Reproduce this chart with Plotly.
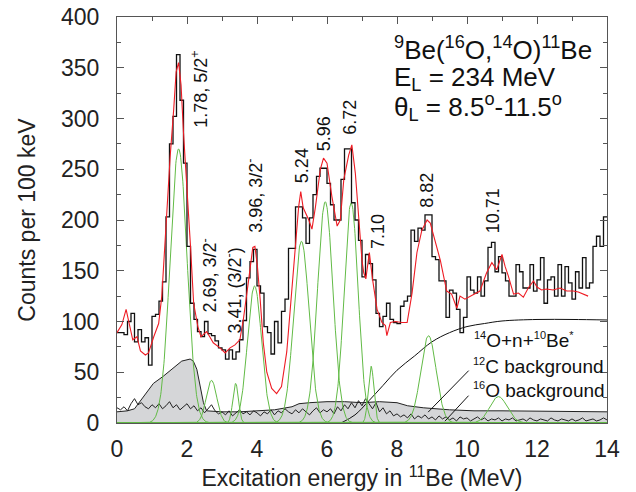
import plotly.graph_objects as go
import numpy as np

# ---------------- data ----------------
bin_width = 0.1
hist_counts = [
    89, 89, 87, 100, 108, 80, 92, 80, 84, 57,
    105, 107, 120, 139, 203, 275, 302, 363, 318, 256,
    174, 118, 102, 90, 85, 100, 88, 86, 81, 74,
    72, 63, 72, 63, 70, 82, 101, 143, 159, 171,
    135, 128, 95, 89, 68, 100, 79, 110, 122, 172,
    172, 213, 213, 202, 177, 202, 225, 243, 251, 251,
    236, 215, 200, 200, 240, 270, 270, 217, 200, 180,
    144, 166, 157, 141, 108, 95, 105, 118, 102, 99,
    98, 115, 120, 125, 190, 179, 192, 190, 205, 205,
    164, 161, 140, 140, 104, 131, 128, 112, 89, 104,
    144, 131, 128, 144, 125, 140, 173, 178, 149, 164,
    148, 140, 125, 125, 156, 149, 133, 133, 156, 130,
    141, 163, 118, 141, 144, 125, 156, 125, 154, 138,
    122, 149, 133, 163, 133, 138, 174, 184, 174, 203,
]

fit_x = [0, 0.14, 0.26, 0.45, 0.57, 0.67, 0.81, 0.9, 1.05, 1.19, 1.28, 1.36, 1.43,
         1.52, 1.62, 1.69, 1.76, 1.83, 1.9, 2.0, 2.1, 2.19, 2.31, 2.4, 2.56, 2.65,
         2.75, 2.94, 3.09, 3.23, 3.37, 3.51, 3.61, 3.75, 3.88, 3.94, 4.01, 4.09,
         4.18, 4.28, 4.42, 4.56, 4.7, 4.85, 5.0, 5.11, 5.19, 5.25, 5.32, 5.48,
         5.57, 5.67, 5.81, 5.9, 6.0, 6.14, 6.29, 6.38, 6.48, 6.62, 6.71, 6.81,
         6.92, 7.0, 7.05, 7.11, 7.21, 7.3, 7.43, 7.57, 7.67, 7.71, 7.81, 7.95,
         8.14, 8.29, 8.43, 8.57, 8.71, 8.86, 8.95, 9.1, 9.24, 9.42, 9.56, 9.71,
         9.8, 9.94, 10.09, 10.23, 10.37, 10.56, 10.71, 10.85, 11.0, 11.09, 11.18,
         11.33, 11.47, 11.61, 11.75, 11.9, 12.0, 12.13, 12.27, 12.46, 12.66,
         12.85, 13.04, 13.18, 13.33, 13.46]
fit_y = [89, 97, 112, 82, 85, 71, 67, 69, 85, 98, 125, 174, 217,
         263, 309, 346, 355, 333, 286, 233, 174, 118, 95, 85, 90, 85,
         79, 74, 69, 74, 77, 82, 102, 138, 173, 174, 155, 122,
         79, 50, 34, 29, 36, 70, 131, 174, 213, 228, 212, 200,
         191, 213, 250, 261, 256, 223, 194, 200, 240, 264, 274, 246,
         191, 160, 148, 142, 168, 142, 112, 99, 96, 86, 99, 100,
         99, 99, 128, 168, 190, 200, 197, 177, 160, 130, 127, 113,
         125, 122, 125, 127, 130, 148, 158, 151, 166, 154, 145,
         127, 128, 124, 133, 140, 134, 131, 132, 131, 133,
         130, 130, 129, 127, 125]

# fitted peak components (centroid MeV, height counts, sigma MeV)
peak_E = [1.76, 2.70, 3.39, 3.93, 5.27, 5.95, 6.69, 7.26, 8.90, 10.90]
peak_A = [270, 42, 39, 135, 179, 218, 217, 56, 86, 26]
peak_S = [0.24, 0.15, 0.08, 0.20, 0.22, 0.22, 0.20, 0.08, 0.22, 0.25]

c12_x = [0, 0.3, 0.5, 0.75, 1.04, 1.32, 1.61, 1.85, 2.09, 2.18, 2.28, 2.37, 2.47,
         2.56, 3.0, 3.5, 4.0, 4.5, 5.0, 5.2, 5.5, 6.0, 6.5, 7.0, 7.5, 8.0, 8.3,
         8.75, 9.5, 10.2, 11, 12, 13, 14]
c12_y = [11, 12, 14, 26, 39, 46, 54, 61, 63, 61, 53, 36, 20,
         12, 11, 11, 12, 13, 16, 19, 20, 21, 21, 20, 21, 20, 17,
         15, 13, 12, 12, 11.5, 11, 11]

o16_step = 0.1
o16_y = [15, 13, 16, 12, 19, 24, 18, 20, 16, 14,
         18, 15, 19, 14, 17, 21, 15, 18, 13, 16,
         19, 14, 17, 12, 15, 10, 14, 18, 12, 9,
         11, 8, 12, 7, 10, 13, 9, 11, 8, 12,
         10, 7, 11, 9, 13, 8, 12, 10, 14, 11,
         9, 13, 10, 14, 11, 8, 12, 15, 10, 13,
         11, 14, 9, 16, 12, 18, 14, 20, 15, 22,
         17, 24, 19, 14, 20, 11, 15, 9, 12, 7,
         9, 6, 8, 5, 9, 4, 7, 5, 8, 4,
         6, 3, 7, 4, 6, 3, 5, 2, 6, 4,
         5, 2, 4, 6, 3, 5, 2, 4, 3, 5,
         2, 4, 3, 5, 2, 3, 4, 2, 5, 3,
         2, 4, 3, 2, 5, 3, 2, 4, 3, 2,
         4, 2, 3, 5, 2, 3, 4, 2, 3, 5, 3]

ps_x = [6.4, 6.8, 7.2, 7.6, 8.0, 8.5, 9.0, 9.5, 10.0, 10.5, 11.0, 12.0, 13.0, 14.0]
ps_y = [0, 8, 22, 37, 52, 66, 80, 89, 95, 98, 100.5, 102, 102, 101.5]

peak_labels = ["1.78, 5/2<sup>+</sup>", "2.69, 3/2<sup>-</sup>", "3.41, (3/2<sup>-</sup>)",
               "3.96, 3/2<sup>-</sup>", "5.24", "5.96", "6.72", "7.10", "8.82", "10.71"]
label_x = [2.36, 2.63, 3.34, 3.93, 5.29, 5.91, 6.67, 7.46, 8.87, 10.73]
label_y = [289, 107, 86, 185, 234, 266, 282, 169, 210, 185]

# ---------------- figure ----------------
FONT = "Liberation Sans, Arial, sans-serif"
RED = "#ee1c24"
GREEN = "#62bb46"


def sup(t, px=11):
    return '<sup><span style="font-size:%dpx">%s</span></sup>' % (px, t)


fig = go.Figure()

# 12C background (grey filled)
fig.add_trace(go.Scatter(x=c12_x, y=c12_y, mode="lines", fill="tozeroy",
                         fillcolor="#d5d6d8", line=dict(color="#222222", width=1),
                         hoverinfo="skip", showlegend=False))
# 16O background
o16_x = [round(i * o16_step, 2) for i in range(len(o16_y))]
fig.add_trace(go.Scatter(x=o16_x, y=o16_y, mode="lines",
                         line=dict(color="#222222", width=1), showlegend=False))
# three-body phase space
fig.add_trace(go.Scatter(x=ps_x, y=ps_y, mode="lines", line_shape="spline",
                         line=dict(color="#111111", width=1), showlegend=False))
# peak components
xg = np.linspace(0, 14, 1401)
for E, A, S in zip(peak_E, peak_A, peak_S):
    yg = A * np.exp(-0.5 * ((xg - E) / S) ** 2)
    fig.add_trace(go.Scatter(x=xg, y=yg, mode="lines",
                             line=dict(color=GREEN, width=1), showlegend=False))
# data histogram
edges = [round(i * bin_width, 2) for i in range(len(hist_counts) + 1)]
fig.add_trace(go.Scatter(x=edges, y=hist_counts + [hist_counts[-1]], mode="lines",
                         line_shape="hv", line=dict(color="#111111", width=1.3),
                         showlegend=False))
# total fit
fig.add_trace(go.Scatter(x=fit_x, y=fit_y, mode="lines",
                         line=dict(color=RED, width=1.1), showlegend=False))

annotations = []
for t, lx, ly in zip(peak_labels, label_x, label_y):
    annotations.append(dict(x=lx, y=ly, text=t, textangle=-90, showarrow=False,
                            xanchor="center", yanchor="bottom",
                            font=dict(family=FONT, size=18, color="#111111")))

title_lines = ["<sup>9</sup>Be(<sup>16</sup>O,<sup>14</sup>O)<sup>11</sup>Be",
               "E<sub>L</sub> = 234 MeV",
               "θ<sub>L</sub> = 8.5<sup>o</sup>-11.5<sup>o</sup>"]
for t, yy in zip(title_lines, [369, 339, 311]):
    annotations.append(dict(x=7.87, y=yy, text=t, showarrow=False, xanchor="left",
                            yanchor="middle", font=dict(family=FONT, size=26, color="#111111")))

annotations.append(dict(x=10.15, y=82, text=sup("14") + "O+n+" + sup("10") + "Be" + sup("*"),
                        showarrow=False, xanchor="left", yanchor="middle",
                        font=dict(family=FONT, size=19, color="#111111")))
annotations.append(dict(x=10.12, y=56, text=sup("12") + "C background",
                        showarrow=False, xanchor="left", yanchor="middle",
                        font=dict(family=FONT, size=19, color="#111111")))
annotations.append(dict(x=10.12, y=33, text=sup("16") + "O background",
                        showarrow=False, xanchor="left", yanchor="middle",
                        font=dict(family=FONT, size=19, color="#111111")))
# leader lines
annotations.append(dict(x=8.89, y=10.7, ax=42, ay=-43, text="", showarrow=True,
                        arrowhead=0, arrowwidth=1, arrowcolor="#111111"))
annotations.append(dict(x=9.37, y=1.8, ax=25, ay=-27, text="", showarrow=True,
                        arrowhead=0, arrowwidth=1, arrowcolor="#111111"))

axis_common = dict(showline=True, linecolor="#555555", linewidth=1.2, mirror="allticks",
                   ticks="inside", ticklen=7, tickcolor="#555555", showgrid=False,
                   zeroline=False, automargin=False, ticklabeloverflow="allow",
                   tickfont=dict(family=FONT, size=23, color="#222222"))

# page body adds an 8 px offset; margins compensate so the frame lands at
# x 117..607, y 17..424 in the 636x492 window
fig.update_layout(
    width=636, height=492,
    margin=dict(l=109, r=37, t=9, b=77),
    paper_bgcolor="white", plot_bgcolor="white",
    annotations=annotations,
    xaxis=dict(range=[0, 14], dtick=2, tick0=0, ticklabelstandoff=5, layer="below traces",
               minor=dict(dtick=1, ticks="inside", ticklen=4, tickcolor="#555555"),
               title=dict(text="Excitation energy in <sup>11</sup>Be (MeV)",
                          font=dict(family=FONT, size=23, color="#222222"), standoff=5),
               **axis_common),
    yaxis=dict(range=[0, 400], dtick=50, tick0=0, ticklabelstandoff=12,
               minor=dict(dtick=25, ticks="inside", ticklen=4, tickcolor="#555555"),
               title=dict(text="Counts per 100 keV",
                          font=dict(family=FONT, size=23, color="#222222"), standoff=18),
               **axis_common),
)

fig.write_html("out.html")
